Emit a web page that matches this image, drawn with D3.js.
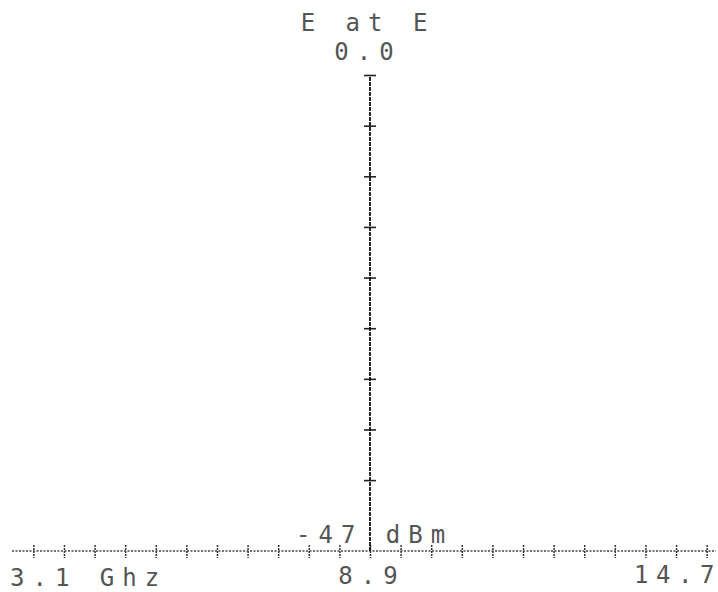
<!DOCTYPE html>
<html>
<head>
<meta charset="utf-8">
<script src="https://d3js.org/d3.v7.min.js"></script>
<style>
  body { margin: 0; background: #fff; }
  svg text {
    font-family: "DejaVu Sans Mono", monospace;
    font-size: 24px;
    letter-spacing: 8px;
    fill: #555;
  }
</style>
</head>
<body>
<div id="chart"></div>
<script>
// spectrum analyser plot: 3.1 - 14.7 GHz, 0.0 to -47 dBm
const freqTicks = [3.4, 3.9, 4.4, 4.9, 5.4, 5.9, 6.4, 6.9, 7.4, 7.9, 8.4, 8.9,
                   9.4, 9.9, 10.4, 10.9, 11.4, 11.9, 12.4, 12.9, 13.4, 13.9, 14.4];
const levelTicks = [0, -5, -10, -15, -20, -25, -30, -35, -40];

// the trace: one spike at the centre frequency
const traceFreq = [8.9, 8.9];
const traceLevel = [-47, 0];

const titleText = "E at E";
const refLabel = "0.0";
const bottomLabel = "-47 dBm";
const startLabel = "3.1 Ghz";
const centerLabel = "8.9";
const stopLabel = "14.7";

const w = 718;
const h = 592;

const x = d3.scaleLinear().domain([3.1, 14.7]).range([15, 725]);
const y = d3.scaleLinear().domain([-47, 0]).range([551, 75]);

const svg = d3.select('#chart')
  .append('svg')
  .attr('width', w)
  .attr('height', h);

// frequency axis
const xAxis = d3.axisBottom(x)
  .tickValues(freqTicks)
  .tickSize(0)
  .tickFormat('');

const gx = svg.append('g')
  .attr('id', 'x-axis')
  .attr('transform', 'translate(0,' + y(-47) + ')')
  .call(xAxis);
gx.select('.domain').remove();

gx.append('line')
  .attr('x1', 12)
  .attr('x2', 716)
  .attr('stroke', '#444')
  .attr('stroke-width', 1.3)
  .attr('stroke-dasharray', '2 1.5');

gx.selectAll('.tick line')
  .attr('y1', -6)
  .attr('y2', 7)
  .attr('stroke', '#333')
  .attr('stroke-width', 1.5)
  .attr('stroke-dasharray', '2 1');

// level axis ticks, on the centre line
const yAxis = d3.axisLeft(y)
  .tickValues(levelTicks)
  .tickSize(0)
  .tickFormat('');

const gy = svg.append('g')
  .attr('id', 'y-axis')
  .attr('transform', 'translate(' + x(8.9) + ',0)')
  .call(yAxis);
gy.select('.domain').remove();

gy.selectAll('.tick line')
  .attr('x1', -6)
  .attr('x2', 6)
  .attr('stroke', '#222')
  .attr('stroke-width', 1.6);

// trace
const trace = d3.line()
  .x(d => x(d[0]))
  .y(d => y(d[1]));

svg.append('path')
  .datum(d3.zip(traceFreq, traceLevel))
  .attr('d', trace)
  .attr('fill', 'none')
  .attr('stroke', '#111')
  .attr('stroke-width', 1.8)
  .attr('stroke-dasharray', '4 1');

// labels
svg.append('text')
  .attr('x', x(8.9) - 2)
  .attr('y', 31)
  .attr('text-anchor', 'middle')
  .text(titleText);

svg.append('text')
  .attr('x', x(8.9) - 2)
  .attr('y', 60)
  .attr('text-anchor', 'middle')
  .text(refLabel);

svg.append('text')
  .attr('x', 296)
  .attr('y', 543)
  .text(bottomLabel);

svg.append('text')
  .attr('x', 10)
  .attr('y', 586)
  .text(startLabel);

svg.append('text')
  .attr('x', x(8.9) + 2)
  .attr('y', 584)
  .attr('text-anchor', 'middle')
  .text(centerLabel);

// right label: place each character so nothing runs past the edge
svg.append('text')
  .attr('x', stopLabel.split('').map((c, i) => 634 + i * 22).join(' '))
  .attr('y', 583)
  .style('letter-spacing', '0px')
  .text(stopLabel);
</script>
</body>
</html>
